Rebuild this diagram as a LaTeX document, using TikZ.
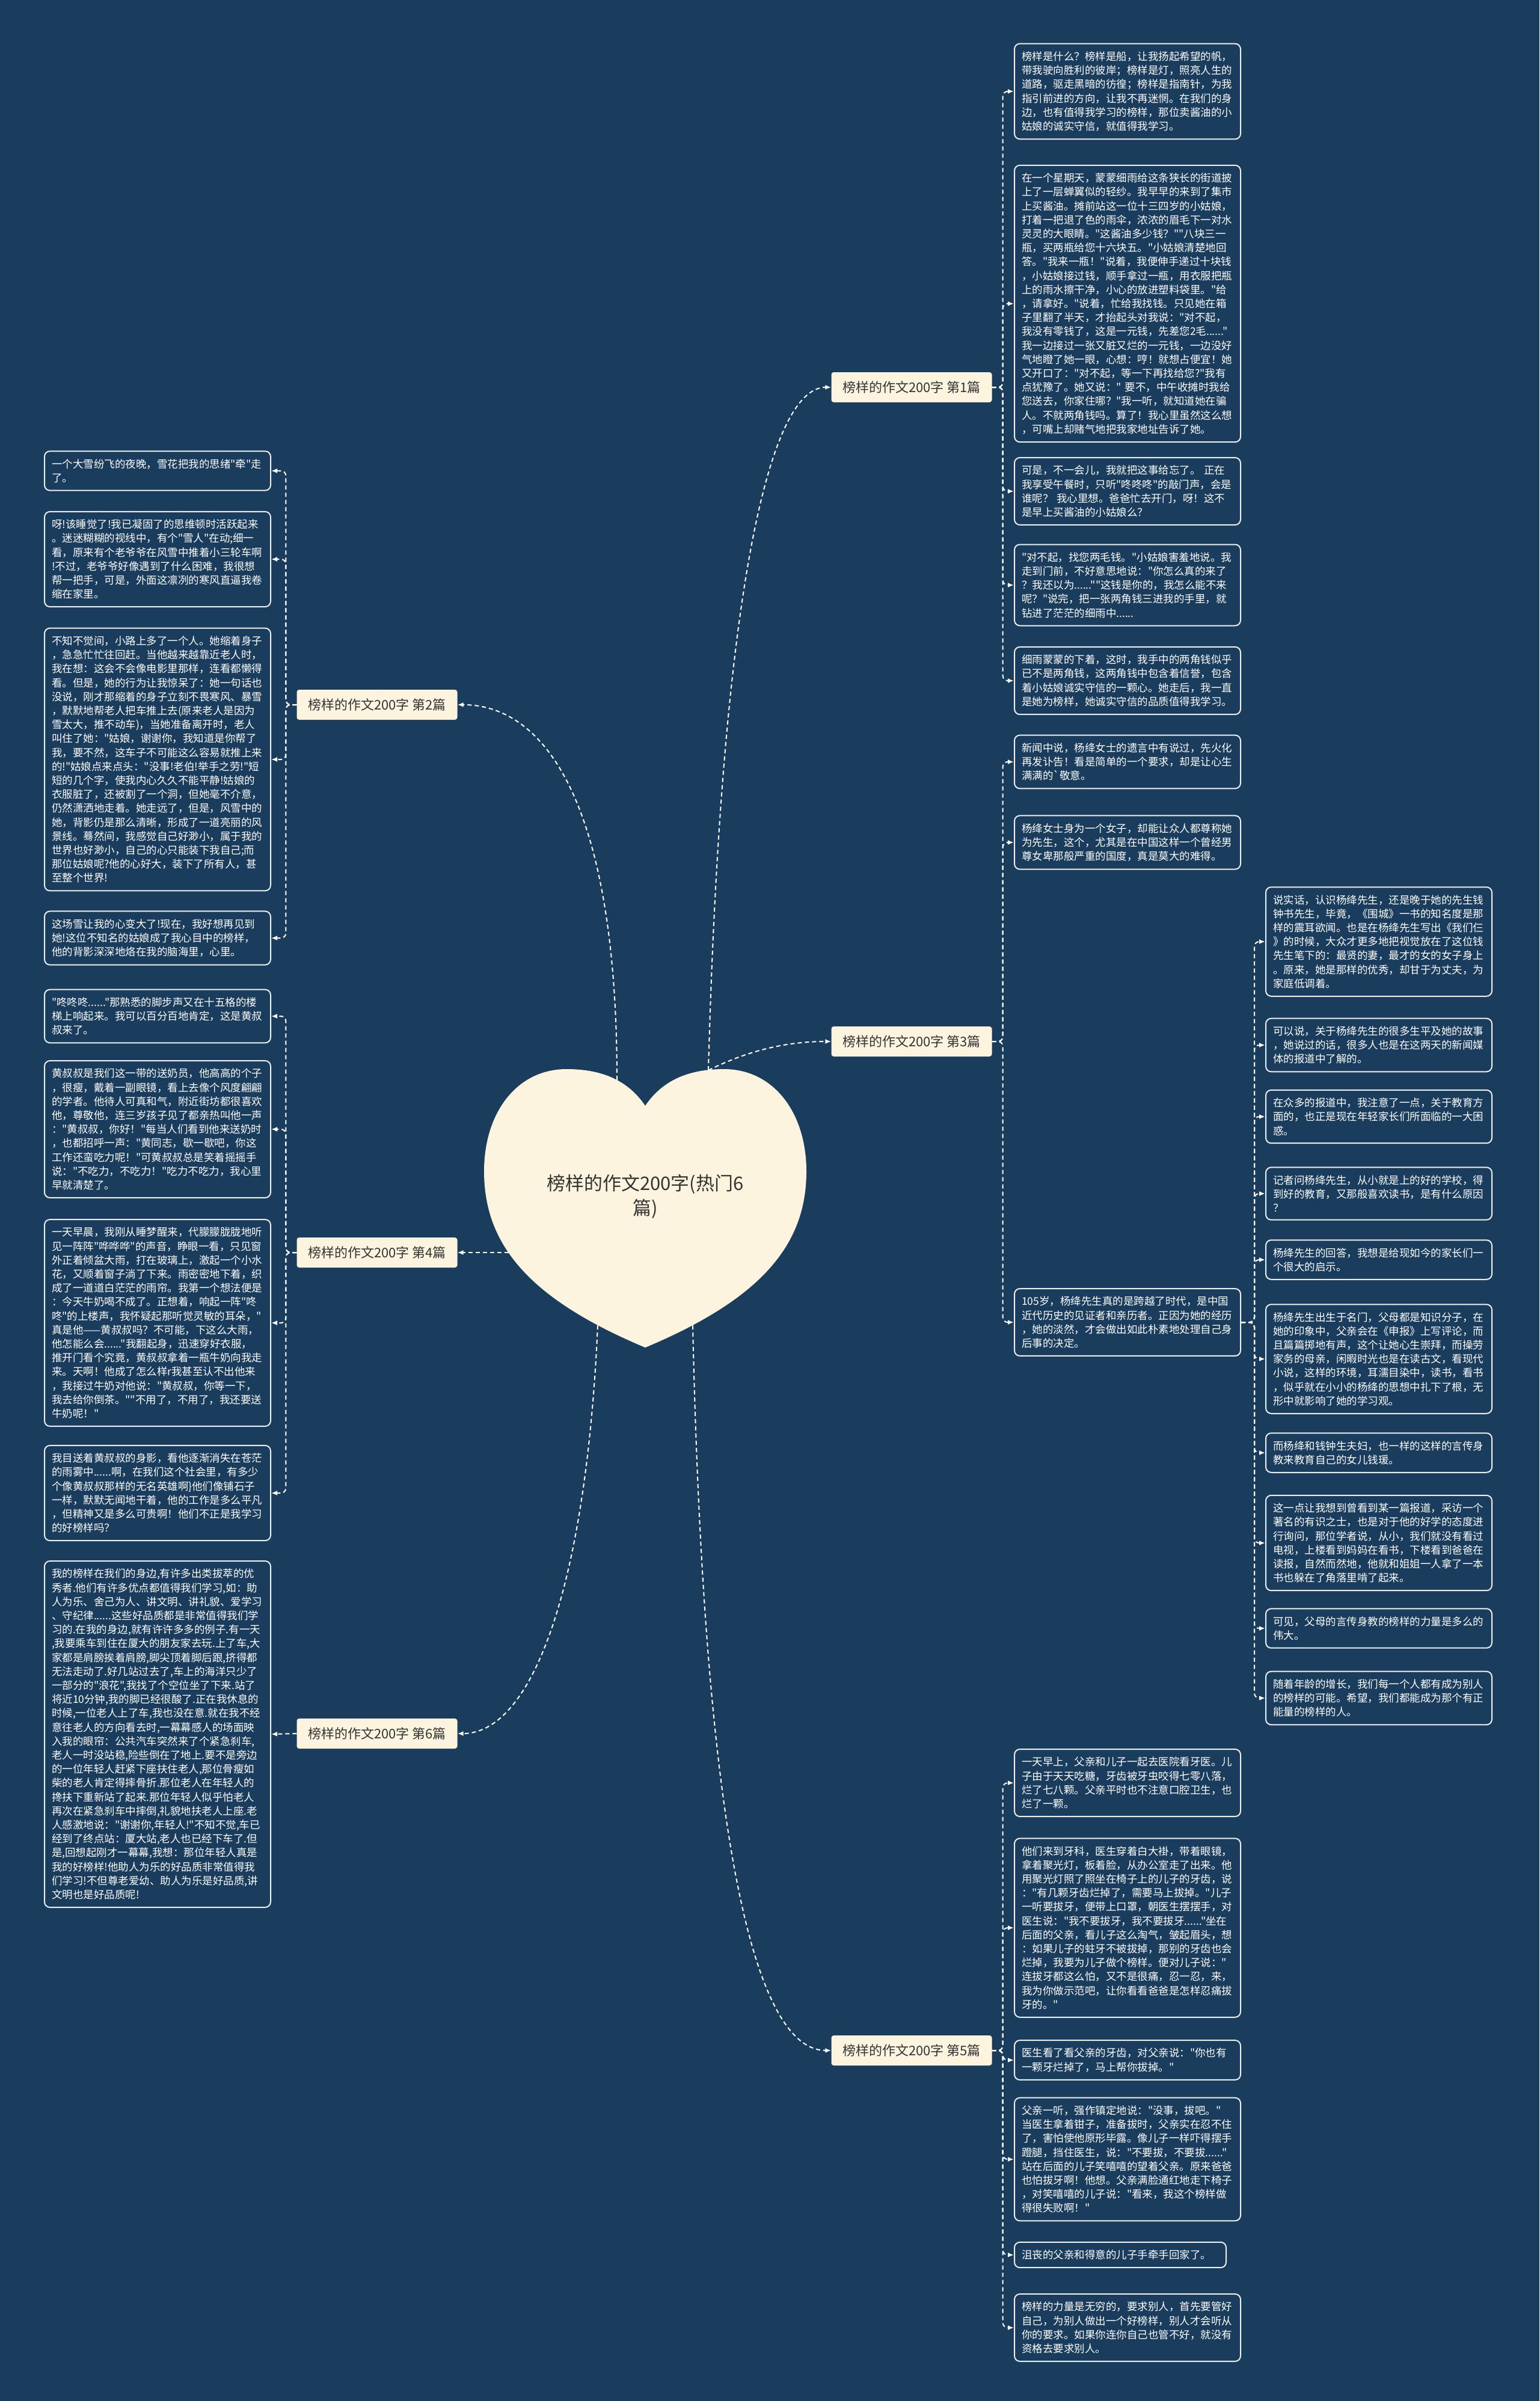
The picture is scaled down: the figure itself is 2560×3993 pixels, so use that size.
\documentclass[tikz,border=0pt]{standalone}
\usepackage{fontspec}
\usetikzlibrary{arrows.meta}
\newfontfamily\cjk{Noto Sans CJK SC}
\definecolor{bgcol}{HTML}{1A3D5E}
\definecolor{cream}{HTML}{FCF4DF}
\definecolor{darktext}{HTML}{333333}
\definecolor{edgecol}{HTML}{EDEDED}
\newcommand\leaffont{\cjk\fontsize{17.5pt}{23.2pt}\selectfont}
\newcommand\branchfont{\cjk\fontsize{22pt}{26pt}\selectfont}
\newcommand\heartfont{\cjk\fontsize{31pt}{41pt}\selectfont}
\begin{document}
\begin{tikzpicture}[x=1pt,y=-1pt,
  leaf/.style={draw=edgecol, line width=2pt, rounded corners=9pt, fill=bgcol, text=white,
    font=\leaffont, text width=352pt, align=left, inner xsep=12pt, inner ysep=13pt, anchor=west},
  branchbox/.style={fill=cream, text=darktext, font=\branchfont, minimum width=267pt,
    minimum height=50pt, rounded corners=4pt, inner sep=0pt},
  conn/.style={draw=white, line width=2pt, dash pattern=on 7pt off 5pt,
    -{Latex[length=10pt,width=8pt]}},
  elbow/.style={conn, rounded corners=8pt}]
\useasboundingbox (0,0) rectangle (2560,3993);
\fill[bgcol] (0,0) rectangle (2560,3993);

% heart
\fill[cream] (1073,1839) .. controls (1040,1790) and (990,1778) .. (942,1778)
  .. controls (860,1778) and (805,1850) .. (805,1948)
  .. controls (805,2070) and (880,2160) .. (1073,2241)
  .. controls (1266,2160) and (1341,2070) .. (1341,1948)
  .. controls (1341,1850) and (1286,1778) .. (1204,1778)
  .. controls (1156,1778) and (1106,1790) .. (1073,1839) -- cycle;
\node[font=\heartfont, text=darktext, align=center] (center) at (1073,1990) {榜样的作文200字(热门6\\篇)};
\coordinate (h1) at (1178,1780);
\coordinate (h2) at (1026,1796);
\coordinate (h4) at (846,2083);
\coordinate (h6) at (994,2204);
\coordinate (h5) at (1152,2204);

% branches
\node[branchbox] (b1) at (1516,644) {榜样的作文200字 第1篇};
\node[branchbox] (b2) at (627,1172) {榜样的作文200字 第2篇};
\node[branchbox] (b3) at (1516,1732) {榜样的作文200字 第3篇};
\node[branchbox] (b4) at (627,2083) {榜样的作文200字 第4篇};
\node[branchbox] (b6) at (627,2883) {榜样的作文200字 第6篇};
\node[branchbox] (b5) at (1516,3410) {榜样的作文200字 第5篇};

% branch 1 leaves
\node[leaf] (r1a) at (1686,152) {榜样是什么？榜样是船，让我扬起希望的帆，\\
带我驶向胜利的彼岸；榜样是灯，照亮人生的\\
道路，驱走黑暗的彷徨；榜样是指南针，为我\\
指引前进的方向，让我不再迷惘。在我们的身\\
边，也有值得我学习的榜样，那位卖酱油的小\\
姑娘的诚实守信，就值得我学习。};
\node[leaf] (r1b) at (1686,505) {在一个星期天，蒙蒙细雨给这条狭长的街道披\\
上了一层蝉翼似的轻纱。我早早的来到了集市\\
上买酱油。摊前站这一位十三四岁的小姑娘，\\
打着一把退了色的雨伞，浓浓的眉毛下一对水\\
灵灵的大眼睛。"这酱油多少钱？""八块三一\\
瓶，买两瓶给您十六块五。"小姑娘清楚地回\\
答。"我来一瓶！"说着，我便伸手递过十块钱\\
，小姑娘接过钱，顺手拿过一瓶，用衣服把瓶\\
上的雨水擦干净，小心的放进塑料袋里。"给\\
，请拿好。"说着，忙给我找钱。只见她在箱\\
子里翻了半天，才抬起头对我说："对不起，\\
我没有零钱了，这是一元钱，先差您2毛......"\\
我一边接过一张又脏又烂的一元钱，一边没好\\
气地瞪了她一眼，心想：哼！就想占便宜！她\\
又开口了："对不起，等一下再找给您?"我有\\
点犹豫了。她又说：" 要不，中午收摊时我给\\
您送去，你家住哪？"我一听，就知道她在骗\\
人。不就两角钱吗。算了！我心里虽然这么想\\
，可嘴上却赌气地把我家地址告诉了她。};
\node[leaf] (r1c) at (1686,817) {可是，不一会儿，我就把这事给忘了。 正在\\
我享受午餐时，只听"咚咚咚"的敲门声，会是\\
谁呢？ 我心里想。爸爸忙去开门，呀！这不\\
是早上买酱油的小姑娘么？};
\node[leaf] (r1d) at (1686,973) {"对不起，找您两毛钱。"小姑娘害羞地说。我\\
走到门前，不好意思地说："你怎么真的来了\\
？我还以为......""这钱是你的，我怎么能不来\\
呢？"说完，把一张两角钱三进我的手里，就\\
钻进了茫茫的细雨中......};
\node[leaf] (r1e) at (1686,1132) {细雨蒙蒙的下着，这时，我手中的两角钱似乎\\
已不是两角钱，这两角钱中包含着信誉，包含\\
着小姑娘诚实守信的一颗心。她走后，我一直\\
是她为榜样，她诚实守信的品质值得我学习。};

% branch 2 leaves
\node[leaf] (l2a) at (73,783) {一个大雪纷飞的夜晚，雪花把我的思绪"牵"走\\
了。};
\node[leaf] (l2b) at (73,930) {呀!该睡觉了!我已凝固了的思维顿时活跃起来\\
。迷迷糊糊的视线中，有个"雪人"在动;细一\\
看，原来有个老爷爷在风雪中推着小三轮车啊\\
!不过，老爷爷好像遇到了什么困难，我很想\\
帮一把手，可是，外面这凛冽的寒风直逼我卷\\
缩在家里。};
\node[leaf] (l2c) at (73,1263) {不知不觉间，小路上多了一个人。她缩着身子\\
，急急忙忙往回赶。当他越来越靠近老人时，\\
我在想：这会不会像电影里那样，连看都懒得\\
看。但是，她的行为让我惊呆了：她一句话也\\
没说，刚才那缩着的身子立刻不畏寒风、暴雪\\
，默默地帮老人把车推上去(原来老人是因为\\
雪太大，推不动车)，当她准备离开时，老人\\
叫住了她："姑娘，谢谢你，我知道是你帮了\\
我，要不然，这车子不可能这么容易就推上来\\
的!"姑娘点来点头："没事!老伯!举手之劳!"短\\
短的几个字，使我内心久久不能平静!姑娘的\\
衣服脏了，还被割了一个洞，但她毫不介意，\\
仍然潇洒地走着。她走远了，但是，风雪中的\\
她，背影仍是那么清晰，形成了一道亮丽的风\\
景线。蓦然间，我感觉自己好渺小，属于我的\\
世界也好渺小，自己的心只能装下我自己;而\\
那位姑娘呢?他的心好大，装下了所有人，甚\\
至整个世界!};
\node[leaf] (l2d) at (73,1560) {这场雪让我的心变大了!现在，我好想再见到\\
她!这位不知名的姑娘成了我心目中的榜样，\\
他的背影深深地烙在我的脑海里，心里。};

% branch 3 leaves
\node[leaf] (r3a) at (1686,1267) {新闻中说，杨绛女士的遗言中有说过，先火化\\
再发讣告！看是简单的一个要求，却是让心生\\
满满的`敬意。};
\node[leaf] (r3b) at (1686,1401) {杨绛女士身为一个女子，却能让众人都尊称她\\
为先生，这个，尤其是在中国这样一个曾经男\\
尊女卑那般严重的国度，真是莫大的难得。};
\node[leaf] (r3c) at (1686,2199) {105岁，杨绛先生真的是跨越了时代，是中国\\
近代历史的见证者和亲历者。正因为她的经历\\
，她的淡然，才会做出如此朴素地处理自己身\\
后事的决定。};

% far column
\node[leaf] (fd) at (2104,1566) {说实话，认识杨绛先生，还是晚于她的先生钱\\
钟书先生，毕竟，《围城》一书的知名度是那\\
样的震耳欲闻。也是在杨绛先生写出《我们仨\\
》的时候，大众才更多地把视觉放在了这位钱\\
先生笔下的：最贤的妻，最才的女的女子身上\\
。原来，她是那样的优秀，却甘于为丈夫，为\\
家庭低调着。};
\node[leaf] (fe) at (2104,1738) {可以说，关于杨绛先生的很多生平及她的故事\\
，她说过的话，很多人也是在这两天的新闻媒\\
体的报道中了解的。};
\node[leaf] (ff) at (2104,1857) {在众多的报道中，我注意了一点，关于教育方\\
面的，也正是现在年轻家长们所面临的一大困\\
惑。};
\node[leaf] (fg) at (2104,1985) {记者问杨绛先生，从小就是上的好的学校，得\\
到好的教育，又那般喜欢读书，是有什么原因\\
？};
\node[leaf] (fh) at (2104,2095) {杨绛先生的回答，我想是给现如今的家长们一\\
个很大的启示。};
\node[leaf] (fi) at (2104,2260) {杨绛先生出生于名门，父母都是知识分子，在\\
她的印象中，父亲会在《申报》上写评论，而\\
且篇篇掷地有声，这个让她心生崇拜，而操劳\\
家务的母亲，闲暇时光也是在读古文，看现代\\
小说，这样的环境，耳濡目染中，读书，看书\\
，似乎就在小小的杨绛的思想中扎下了根，无\\
形中就影响了她的学习观。};
\node[leaf] (fj) at (2104,2416) {而杨绛和钱钟生夫妇，也一样的这样的言传身\\
教来教育自己的女儿钱瑗。};
\node[leaf] (fk) at (2104,2566) {这一点让我想到曾看到某一篇报道，采访一个\\
著名的有识之士，也是对于他的好学的态度进\\
行询问，那位学者说，从小，我们就没有看过\\
电视，上楼看到妈妈在看书，下楼看到爸爸在\\
读报，自然而然地，他就和姐姐一人拿了一本\\
书也躲在了角落里啃了起来。};
\node[leaf] (fl) at (2104,2708) {可见，父母的言传身教的榜样的力量是多么的\\
伟大。};
\node[leaf] (fm) at (2104,2824) {随着年龄的增长，我们每一个人都有成为别人\\
的榜样的可能。希望，我们都能成为那个有正\\
能量的榜样的人。};

% branch 4 leaves
\node[leaf] (l4a) at (73,1690) {"咚咚咚......"那熟悉的脚步声又在十五格的楼\\
梯上响起来。我可以百分百地肯定，这是黄叔\\
叔来了。};
\node[leaf] (l4b) at (73,1878) {黄叔叔是我们这一带的送奶员，他高高的个子\\
，很瘦，戴着一副眼镜，看上去像个风度翩翩\\
的学者。他待人可真和气，附近街坊都很喜欢\\
他，尊敬他，连三岁孩子见了都亲热叫他一声\\
："黄叔叔，你好！"每当人们看到他来送奶时\\
，也都招呼一声："黄同志，歇一歇吧，你这\\
工作还蛮吃力呢！"可黄叔叔总是笑着摇摇手\\
说："不吃力，不吃力！"吃力不吃力，我心里\\
早就清楚了。};
\node[leaf] (l4c) at (73,2200) {一天早晨，我刚从睡梦醒来，代朦朦胧胧地听\\
见一阵阵"哗哗哗"的声音，睁眼一看，只见窗\\
外正着倾盆大雨，打在玻璃上，激起一个小水\\
花，又顺着窗子淌了下来。雨密密地下着，织\\
成了一道道白茫茫的雨帘。我第一个想法便是\\
：今天牛奶喝不成了。正想着，响起一阵"咚\\
咚"的上楼声，我怀疑起那听觉灵敏的耳朵，"\\
真是他——黄叔叔吗？不可能，下这么大雨，\\
他怎能么会......"我翻起身，迅速穿好衣服，\\
推开门看个究竟，黄叔叔拿着一瓶牛奶向我走\\
来。天啊！他成了怎么样r我甚至认不出他来\\
，我接过牛奶对他说："黄叔叔，你等一下，\\
我去给你倒茶。""不用了，不用了，我还要送\\
牛奶呢！"};
\node[leaf] (l4d) at (73,2483) {我目送着黄叔叔的身影，看他逐渐消失在苍茫\\
的雨雾中......啊，在我们这个社会里，有多少\\
个像黄叔叔那样的无名英雄啊\}他们像铺石子\\
一样，默默无闻地干着，他的工作是多么平凡\\
，但精神又是多么可贵啊！他们不正是我学习\\
的好榜样吗？};

% branch 6 leaf
\node[leaf] (l6a) at (73,2884) {我的榜样在我们的身边,有许多出类拔萃的优\\
秀者.他们有许多优点都值得我们学习,如：助\\
人为乐、舍己为人、讲文明、讲礼貌、爱学习\\
、守纪律......这些好品质都是非常值得我们学\\
习的.在我的身边,就有许许多多的例子.有一天\\
,我要乘车到住在厦大的朋友家去玩.上了车,大\\
家都是肩膀挨着肩膀,脚尖顶着脚后跟,挤得都\\
无法走动了.好几站过去了,车上的海洋只少了\\
一部分的"浪花",我找了个空位坐了下来.站了\\
将近10分钟,我的脚已经很酸了.正在我休息的\\
时候,一位老人上了车,我也没在意.就在我不经\\
意往老人的方向看去时,一幕幕感人的场面映\\
入我的眼帘：公共汽车突然来了个紧急刹车,\\
老人一时没站稳,险些倒在了地上.要不是旁边\\
的一位年轻人赶紧下座扶住老人,那位骨瘦如\\
柴的老人肯定得摔骨折.那位老人在年轻人的\\
搀扶下重新站了起来.那位年轻人似乎怕老人\\
再次在紧急刹车中摔倒,礼貌地扶老人上座.老\\
人感激地说："谢谢你,年轻人!"不知不觉,车已\\
经到了终点站：厦大站,老人也已经下车了.但\\
是,回想起刚才一幕幕,我想：那位年轻人真是\\
我的好榜样!他助人为乐的好品质非常值得我\\
们学习!不但尊老爱幼、助人为乐是好品质,讲\\
文明也是好品质呢!};

% branch 5 leaves
\node[leaf] (r5a) at (1686,2965) {一天早上，父亲和儿子一起去医院看牙医。儿\\
子由于天天吃糖，牙齿被牙虫咬得七零八落，\\
烂了七八颗。父亲平时也不注意口腔卫生，也\\
烂了一颗。};
\node[leaf] (r5b) at (1686,3206) {他们来到牙科，医生穿着白大褂，带着眼镜，\\
拿着聚光灯，板着脸，从办公室走了出来。他\\
用聚光灯照了照坐在椅子上的儿子的牙齿，说\\
："有几颗牙齿烂掉了，需要马上拔掉。"儿子\\
一听要拔牙，便带上口罩，朝医生摆摆手，对\\
医生说："我不要拔牙，我不要拔牙......"坐在\\
后面的父亲，看儿子这么淘气，皱起眉头，想\\
：如果儿子的蛀牙不被拔掉，那别的牙齿也会\\
烂掉，我要为儿子做个榜样。便对儿子说："\\
连拔牙都这么怕，又不是很痛，忍一忍，来，\\
我为你做示范吧，让你看看爸爸是怎样忍痛拔\\
牙的。"};
\node[leaf] (r5c) at (1686,3426) {医生看了看父亲的牙齿，对父亲说："你也有\\
一颗牙烂掉了，马上帮你拔掉。"};
\node[leaf] (r5d) at (1686,3591) {父亲一听，强作镇定地说："没事，拔吧。"\\
当医生拿着钳子，准备拔时，父亲实在忍不住\\
了，害怕使他原形毕露。像儿子一样吓得摆手\\
蹬腿，挡住医生，说："不要拔，不要拔......"\\
站在后面的儿子笑嘻嘻的望着父亲。原来爸爸\\
也怕拔牙啊！他想。父亲满脸通红地走下椅子\\
，对笑嘻嘻的儿子说："看来，我这个榜样做\\
得很失败啊！"};
\node[leaf, text width=328pt] (r5e) at (1686,3750) {沮丧的父亲和得意的儿子手牵手回家了。};
\node[leaf] (r5f) at (1686,3871) {榜样的力量是无穷的，要求别人，首先要管好\\
自己，为别人做出一个好榜样，别人才会听从\\
你的要求。如果你连你自己也管不好，就没有\\
资格去要求别人。};

% heart connectors
\draw[conn] (h1) .. controls +(20,-750) and +(-110,0) .. (b1.west);
\draw[conn] (h1) .. controls +(60,-30) and +(-80,0) .. (b3.west);
\draw[conn] (h2) .. controls +(0,-450) and +(150,0) .. (b2.east);
\draw[conn] (h4) -- (b4.east);
\draw[conn] (h6) .. controls +(-20,450) and +(120,0) .. (b6.east);
\draw[conn] (h5) .. controls +(20,900) and +(-120,0) .. (b5.west);

% branch -> leaf connectors
\foreach \n in {r1a,r1b,r1c,r1d,r1e}{\draw[elbow] (b1.east) -- ++(18,0) |- (\n.west);}
\foreach \n in {r3a,r3b,r3c}{\draw[elbow] (b3.east) -- ++(18,0) |- (\n.west);}
\foreach \n in {fd,fe,ff,fg,fh,fi,fj,fk,fl,fm}{\draw[elbow] (r3c.east) -- ++(22,0) |- (\n.west);}
\foreach \n in {r5a,r5b,r5c,r5d,r5e,r5f}{\draw[elbow] (b5.east) -- ++(18,0) |- (\n.west);}
\foreach \n in {l2a,l2b,l2c,l2d}{\draw[elbow] (b2.west) -- ++(-18,0) |- (\n.east);}
\foreach \n in {l4a,l4b,l4c,l4d}{\draw[elbow] (b4.west) -- ++(-18,0) |- (\n.east);}
\draw[conn] (b6.west) -- (l6a.east);
\end{tikzpicture}
\end{document}
